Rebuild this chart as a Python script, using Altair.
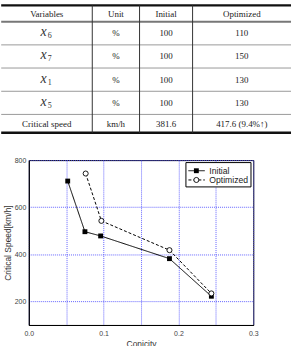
import altair as alt
import pandas as pd

# ---------------- table content ----------------
header = ["Variables", "Unit", "Initial", "Optimized"]
var_subscripts = ["6", "7", "1", "5"]
last_row_label = "Critical  speed"
units = ["%", "%", "%", "%", "km/h"]
initial_vals = ["100", "100", "100", "100", "381.6"]
optimized_vals = ["110", "150", "130", "130", "417.6  (9.4%\u2191)"]

# ---------------- plot data ----------------
series_names = ["Initial", "Optimized"]
conicity_initial = [0.052, 0.075, 0.096, 0.188, 0.244]
speed_initial = [711, 496, 478, 381.6, 222]
conicity_optimized = [0.076, 0.097, 0.188, 0.244]
speed_optimized = [743, 542, 417.6, 234]

x_ticks = [0.0, 0.05, 0.1, 0.15, 0.2, 0.25, 0.3]
y_ticks = [200, 400, 600, 800]

# ---------------- page layout (page units, plot area = [PL, PL+PW] x [PT, PT+PH]) ----------------
PL, PT, PW, PH = 27.8, 160.0, 226, 166
PX = alt.Scale(domain=[PL, PL + PW], nice=False, zero=False)
PY = alt.Scale(domain=[PT, PT + PH], nice=False, zero=False, reverse=True)

col_widths = [91.7, 47.6, 53.4, 99.1]
row_heights = [16.5, 23.3, 23.3, 23.4, 23.3, 18.5]
table_top = 4.2

col_edges = [0.0]
for w in col_widths:
    col_edges.append(col_edges[-1] + w)
row_edges = [table_top]
for h in row_heights:
    row_edges.append(row_edges[-1] + h)
col_c = [(col_edges[i] + col_edges[i + 1]) / 2 for i in range(4)]
row_c = [(row_edges[i] + row_edges[i + 1]) / 2 for i in range(6)]

text_rows = []
for j, h in enumerate(header):
    text_rows.append({"x": col_c[j], "y": row_c[0], "t": h})
for i in range(5):
    r = row_c[i + 1]
    if i == 4:
        text_rows.append({"x": col_c[0], "y": r, "t": last_row_label})
    text_rows.append({"x": col_c[1], "y": r, "t": units[i]})
    text_rows.append({"x": col_c[2], "y": r, "t": initial_vals[i]})
    text_rows.append({"x": col_c[3], "y": r, "t": optimized_vals[i]})
text_df = pd.DataFrame(text_rows)

var_df = pd.DataFrame({"x": [col_c[0]] * 4, "y": row_c[1:5], "sub": var_subscripts})

hline_df = pd.DataFrame({
    "y": row_edges,
    "x0": [col_edges[0]] * 7, "x1": [col_edges[-1]] * 7,
    "w": [2.2, 1.8, 1, 1, 1, 1, 2.4],
    "c": ["#111", "#777", "#999", "#999", "#999", "#999", "#111"],
})
vline_df = pd.DataFrame({"x": col_edges[1:4], "y0": [row_edges[0]] * 3, "y1": [row_edges[-1]] * 3})

def px(f):
    return alt.X(f, scale=PX, axis=None)

def py(f):
    return alt.Y(f, scale=PY, axis=None)

t_text = alt.Chart(text_df).mark_text(font="Liberation Serif", fontSize=9, color="#222", baseline="middle").encode(
    x=px("x:Q"), y=py("y:Q"), text="t:N")
t_x = alt.Chart(var_df).mark_text(font="Liberation Serif", fontStyle="italic", fontSize=14, color="#333",
                                  align="right", baseline="middle", dy=-1).encode(
    x=px("x:Q"), y=py("y:Q"), text=alt.value("x"))
t_sub = alt.Chart(var_df).mark_text(font="Liberation Serif", fontSize=8, color="#333",
                                    align="left", baseline="middle", dx=1, dy=3).encode(
    x=px("x:Q"), y=py("y:Q"), text="sub:N")
t_h = alt.Chart(hline_df).mark_rule().encode(
    x=px("x0:Q"), x2="x1:Q", y=py("y:Q"),
    strokeWidth=alt.StrokeWidth("w:Q", scale=None), color=alt.Color("c:N", scale=None))
t_v = alt.Chart(vline_df).mark_rule(color="#333", strokeWidth=1).encode(
    x=px("x:Q"), y=py("y0:Q"), y2="y1:Q")

# ---------------- legend (page units) ----------------
leg_box = pd.DataFrame({"x0": [186.0], "x1": [251.5], "y0": [162.5], "y1": [187.0]})
leg_df = pd.DataFrame({"series": series_names, "y": [170.7, 180.0],
                       "x0": [188.5, 188.5], "x1": [205.0, 205.0], "xm": [196.5, 196.5], "xl": [209.5, 209.5]})

dash_scale = alt.Scale(domain=series_names, range=[[1, 0], [3, 2]])

l_box = alt.Chart(leg_box).mark_rect(fill="white", stroke="black", strokeWidth=1).encode(
    x=px("x0:Q"), x2="x1:Q", y=py("y0:Q"), y2="y1:Q")
l_lines = alt.Chart(leg_df).mark_rule(color="black", strokeWidth=1).encode(
    x=px("x0:Q"), x2="x1:Q", y=py("y:Q"),
    strokeDash=alt.StrokeDash("series:N", scale=dash_scale, legend=None))
l_sq = alt.Chart(leg_df).transform_filter(alt.datum.series == "Initial").mark_point(
    shape="square", filled=True, color="black", size=24, opacity=1).encode(x=px("xm:Q"), y=py("y:Q"))
l_ci = alt.Chart(leg_df).transform_filter(alt.datum.series == "Optimized").mark_point(
    shape="circle", fill="white", stroke="black", strokeWidth=0.9, size=26, opacity=1).encode(x=px("xm:Q"), y=py("y:Q"))
l_txt = alt.Chart(leg_df).mark_text(font="Liberation Sans", fontSize=8.7, color="#222", align="left",
                                    baseline="middle").encode(x=px("xl:Q"), y=py("y:Q"), text="series:N")

page_layer = alt.layer(t_h, t_v, t_text, t_x, t_sub, l_box, l_lines, l_sq, l_ci, l_txt)

# ---------------- line chart ----------------
df = pd.DataFrame({
    "series": ["Initial"] * len(conicity_initial) + ["Optimized"] * len(conicity_optimized),
    "conicity": conicity_initial + conicity_optimized,
    "speed": speed_initial + speed_optimized,
})

grid_color = "#4a4aff"
x_enc = alt.X("conicity:Q", scale=alt.Scale(domain=[0, 0.3], nice=False, zero=False),
              axis=alt.Axis(values=x_ticks, title="Conicity", grid=True,
                            labelExpr="round(datum.value*20) % 2 == 0 ? format(datum.value, '.1f') : ''",
                            labelFlush=False, ticks=False, labelPadding=5, titlePadding=3))
y_enc = alt.Y("speed:Q", scale=alt.Scale(domain=[100, 800], nice=False, zero=False),
              axis=alt.Axis(values=y_ticks, title="Critical Speed[km/h]", grid=True,
                            ticks=False, labelPadding=3, titlePadding=2))

base = alt.Chart(df).encode(x=x_enc, y=y_enc)

lines = base.mark_line(color="black", strokeWidth=1).encode(
    strokeDash=alt.StrokeDash("series:N", scale=dash_scale, legend=None))
pts_init = base.transform_filter(alt.datum.series == "Initial").mark_point(
    shape="square", filled=True, color="black", size=24, opacity=1)
pts_opt = base.transform_filter(alt.datum.series == "Optimized").mark_point(
    shape="circle", fill="white", stroke="black", strokeWidth=0.9, size=26, opacity=1)

plot_layer = alt.layer(lines, pts_init, pts_opt)

chart = alt.layer(plot_layer, page_layer).resolve_scale(
    x="independent", y="independent"
).properties(
    width=PW, height=PH,
    padding={"left": 0, "top": 3, "right": 0, "bottom": 0}
).configure_view(stroke="black", strokeWidth=1).configure_axis(
    domainColor="black", gridColor=grid_color, gridDash=[1, 1], gridWidth=1, gridOpacity=0.85,
    labelFont="Liberation Sans", labelFontSize=7, labelColor="#444",
    titleFont="Liberation Sans", titleFontSize=8.5, titleFontWeight="normal", titleColor="#333"
)

chart.save("out.html", embed_options={"renderer": "svg", "actions": False})
